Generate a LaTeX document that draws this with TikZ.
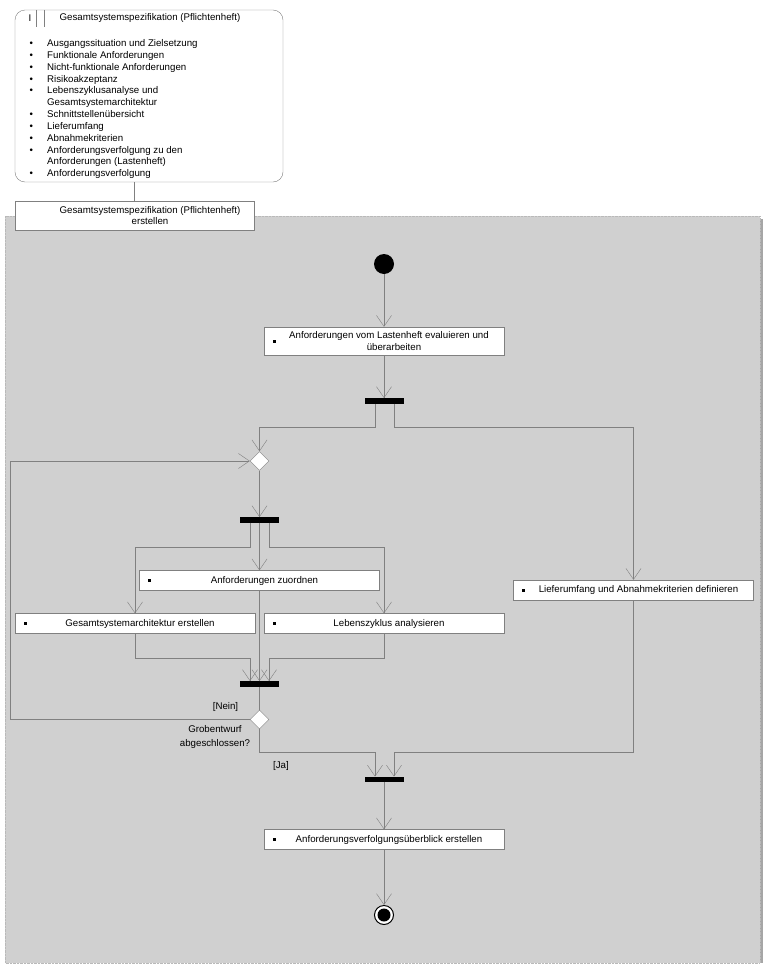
\documentclass[tikz,border=0pt]{standalone}
\usepackage{fontspec}
\setmainfont{Liberation Sans}
\usetikzlibrary{arrows.meta,shapes.geometric}
\definecolor{regiongray}{RGB}{208,208,208}
\definecolor{linegray}{RGB}{128,128,128}

\begin{document}
\begin{tikzpicture}
  [x=1pt,y=-1pt,font=\fontsize{9.7}{11.5}\selectfont,
   every node/.style={inner sep=0pt},
   line/.style={draw=linegray},
   flow/.style={draw=linegray,-{Straight Barb[length=11pt,width=15pt]}},
   act/.style={draw=linegray,fill=white,minimum width=240pt,minimum height=20pt,align=center,
     execute at begin node={\hspace*{10pt}},
     path picture={\fill[black] ([xshift=10pt]path picture bounding box.west) ++(-1.5pt,-1.5pt) rectangle ++(3pt,3pt);}},
   bar/.style={fill=black,minimum width=39pt,minimum height=5.5pt},
   decision/.style={diamond,draw=linegray,fill=white,minimum width=19pt,minimum height=19pt},
   startnode/.style={circle,fill=black,minimum size=20pt},
   endnode/.style={circle,draw=black,line width=1pt,fill=white,minimum size=19pt,
     path picture={\fill[black] (path picture bounding box.center) circle (6.5pt);}}]

  \useasboundingbox (0,0) rectangle (768,969);

  % activity region
  \fill[gray!70] (8,219) rectangle (763,963);
  \draw[fill=regiongray,draw=gray!55,densely dotted] (5,216) rectangle (760,963);

  % object node
  \node[draw=linegray,fill=white,rounded corners=10pt,minimum width=268pt,minimum height=172pt] (obj) at (149,96) {};
  \draw[line] ([xshift=21pt]obj.north west) -- ++(0,17);
  \draw[line] ([xshift=29pt]obj.north west) -- ++(0,17);
  \node (objI) at (30,18) {I};
  \node (objtitle) at (150,18) {Gesamtsystemspezifikation (Pflichtenheft)};
  \node[anchor=north west] (objlist) at (29.3,38) {\fontsize{9.7}{11.85}\selectfont
    \begin{tabular}{@{}p{17.7pt}@{}l@{}}
      \textbullet & Ausgangssituation und Zielsetzung\\
      \textbullet & Funktionale Anforderungen\\
      \textbullet & Nicht-funktionale Anforderungen\\
      \textbullet & Risikoakzeptanz\\
      \textbullet & Lebenszyklusanalyse und\\
                  & Gesamtsystemarchitektur\\
      \textbullet & Schnittstellenübersicht\\
      \textbullet & Lieferumfang\\
      \textbullet & Abnahmekriterien\\
      \textbullet & Anforderungsverfolgung zu den\\
                  & Anforderungen (Lastenheft)\\
      \textbullet & Anforderungsverfolgung
    \end{tabular}};

  % activity label
  \node[draw=linegray,fill=white,minimum width=239pt,minimum height=29pt,align=center] (lbl) at (134.5,215.5)
    {\hspace*{31pt}Gesamtsystemspezifikation (Pflichtenheft)\\\hspace*{31pt}erstellen};
  \draw[line] (lbl.north |- obj.south) -- (lbl.north);

  % flow nodes
  \node[startnode] (start) at (384,264) {};
  \node[act,minimum height=28pt] (eval) at (384,341) {Anforderungen vom Lastenheft evaluieren und\\\hspace*{10pt}überarbeiten};
  \node[bar] (fork1) at (384,401) {};
  \node[decision] (merge) at (259.5,461) {};
  \node[bar] (fork2) at (259.5,520) {};
  \node[act] (zuord) at (259.5,580.5) {Anforderungen zuordnen};
  \node[act] (arch) at (135,623.5) {Gesamtsystemarchitektur erstellen};
  \node[act] (leben) at (384,623.5) {Lebenszyklus analysieren};
  \node[act] (liefer) at (633.5,590) {Lieferumfang und Abnahmekriterien definieren};
  \node[bar] (join1) at (259.5,684) {};
  \node[decision] (grob) at (259.5,719.5) {};
  \node[bar] (join2) at (384,779.5) {};
  \node[act] (ueber) at (384,839.5) {Anforderungsverfolgungsüberblick erstellen};
  \node[endnode] (stop) at (384,915) {};
  \coordinate (loop) at (10.5,461);

  \node (nein) at (225.5,707) {[Nein]};
  \node[align=center] (frage) at (215,737) {Grobentwurf\\[3pt]abgeschlossen?};
  \node (ja) at (281,766) {[Ja]};

  \foreach \from/\to in {start/eval,eval/fork1,merge/fork2,fork2/zuord,zuord/join1,join2/ueber,ueber/stop}
    \draw[flow] (\from) -- (\to);
  \draw[line] (join1) -- (grob);

  \draw[flow] ([xshift=-9pt]fork1.south) -- ++(0,23) -| (merge.north);
  \draw[flow] ([xshift=10pt]fork1.south) -- ++(0,23) -| (liefer.north);
  \draw[flow] ([xshift=-9.5pt]fork2.south) -- ++(0,24) -| (arch.north);
  \draw[flow] ([xshift=9.5pt]fork2.south) -- ++(0,24) -| (leben.north);
  \draw[flow] (arch.south) -- ++(0,24) -| ([xshift=-9.5pt]join1.north);
  \draw[flow] (leben.south) -- ++(0,24) -| ([xshift=9.5pt]join1.north);
  \draw[flow] (grob.south) -- ++(0,23) -| ([xshift=-9pt]join2.north);
  \draw[flow] (liefer.south) -- ++(0,152) -| ([xshift=10pt]join2.north);
  \draw[flow] (grob.west) -| (loop) -- (merge.west);
\end{tikzpicture}
\end{document}
